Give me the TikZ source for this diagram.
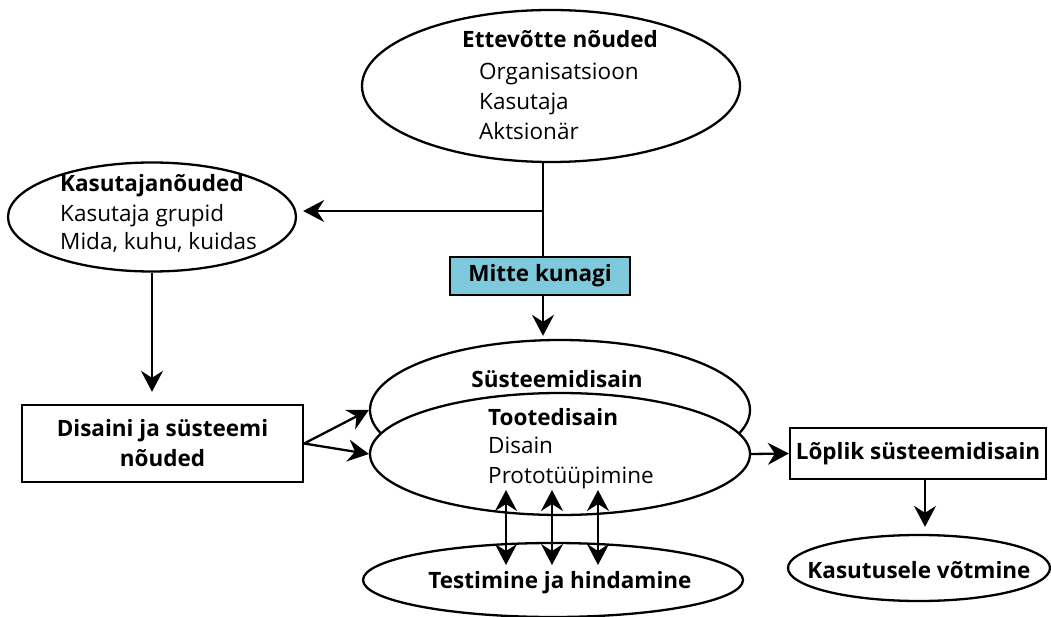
\documentclass[tikz,border=0pt]{standalone}
\usepackage{fontspec}
\setmainfont{Open Sans}
\usetikzlibrary{shapes.geometric,arrows.meta,positioning}
\definecolor{kunagiblue}{RGB}{126,202,220}
\newcommand{\txtsize}{\fontsize{22.5}{30}\selectfont}
\tikzset{
  oval/.style = {ellipse, draw, line width=2.3pt, fill=white, inner sep=0pt},
  block/.style = {rectangle, draw, line width=2.3pt, fill=white, inner sep=0pt,
    align=center, font=\txtsize\bfseries},
  title/.style = {anchor=base, inner sep=0pt, font=\txtsize\bfseries},
  item/.style = {anchor=base west, inner sep=0pt, font=\txtsize},
  tip/.tip = {Stealth[length=21pt,width=22pt,inset=7pt]},
  arr/.style = {line width=2.3pt, -tip},
  dbl/.style = {line width=2.3pt, tip-tip}
}

\begin{document}
\begin{tikzpicture}[x=1pt, y=-1pt]
  \useasboundingbox (0,0) rectangle (1051,617);

  % ellipses
  \node[oval, minimum width=378pt, minimum height=152pt] (company) at (551,86) {};
  \node[oval, minimum width=288pt, minimum height=109pt] (userreq) at (152,217) {};
  \node[oval, minimum width=380pt, minimum height=140pt] (sysdes) at (560,410) {};
  \node[oval, minimum width=380pt, minimum height=122pt] (proddes) at (560,454) {};
  \node[oval, minimum width=380pt, minimum height=74pt] (testing) at (553,580) {};
  \node[oval, minimum width=262pt, minimum height=66pt] (deploy) at (919,568) {};

  % boxes
  \node[block, minimum width=281pt, minimum height=77pt] (designreq) at (162.5,443.5) {Disaini ja süsteemi\\nõuded};
  \node[block, minimum width=256pt, minimum height=51pt] (final) at (918,453.5) {Lõplik süsteemidisain};

  % texts
  \node[title] (companyt) at (560,48) {Ettevõtte nõuded};
  \node[item] (org) at (479,80) {Organisatsioon};
  \node[item] (usr) at (479,110) {Kasutaja};
  \node[item] (share) at (479,140) {Aktsionär};

  \node[item, font=\txtsize\bfseries] (userreqt) at (60,192) {Kasutajanõuded};
  \node[item] (groups) at (60,222) {Kasutaja grupid};
  \node[item] (what) at (60,250) {Mida, kuhu, kuidas};

  \node[title] (sysdest) at (557,387) {Süsteemidisain};
  \node[item, font=\txtsize\bfseries] (proddest) at (488,425) {Tootedisain};
  \node[item] (design) at (488,453) {Disain};
  \node[item] (proto) at (488,483) {Prototüüpimine};

  \node[title] (testingt) at (560,588) {Testimine ja hindamine};
  \node[title] (deployt) at (919,578) {Kasutusele võtmine};

  % connectors
  \coordinate (branch) at (543,211);
  \draw[line width=2.3pt] (company.south -| branch) -- (branch);
  \draw[arr, shorten >=6pt] (branch) -- (userreq.east |- branch);
  \node[block, fill=kunagiblue, minimum width=180pt, minimum height=38pt] (never) at (540,276) {Mitte kunagi};
  \draw[line width=2.3pt] (branch) -- (never.north -| branch);
  \draw[arr, shorten >=3pt] (never.south -| branch) -- (sysdes.north -| branch);

  \draw[arr, shorten >=12pt] (userreq.south) -- (userreq.south |- designreq.north);
  \draw[arr] (designreq.east) -- (sysdes.west);
  \draw[arr] (designreq.east) -- (proddes.west);
  \draw[arr] (proddes.east) -- (final.west);
  \draw[arr, shorten >=7pt] (final.south -| 925,0) -- (deploy.north -| 925,0);

  \foreach \x [count=\i] in {506,552,598} {
    \coordinate (up\i) at (\x,490);
    \coordinate (down\i) at (\x,565);
    \draw[dbl] (up\i) -- (down\i);
  }
\end{tikzpicture}
\end{document}
